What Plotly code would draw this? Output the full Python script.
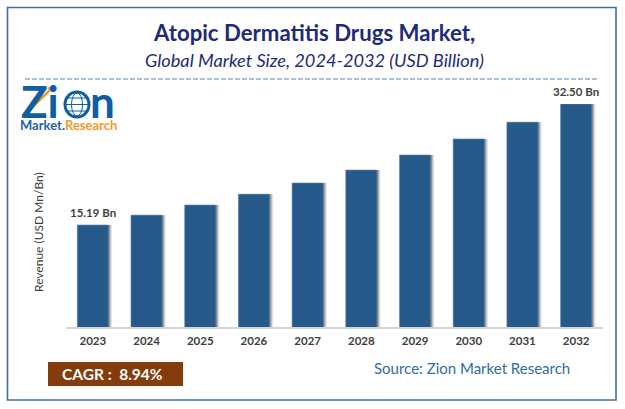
import plotly.graph_objects as go

years = ["2023","2024","2025","2026","2027","2028","2029","2030","2031","2032"]
values = [15.19,16.6,18.05,19.6,21.2,23.05,25.2,27.5,29.9,32.5]
label_years = ["2023","2032"]
label_values = [15.19,32.5]
label_texts = ["15.19 Bn","32.50 Bn"]

W,H = 625,409
def px(x): return x/W
def py(y): return 1-y/H

fig = go.Figure()
for off,op in [(0.36,0.10),(0.345,0.16),(0.33,0.25),(0.315,0.35),(0.30,0.45)]:
    fig.add_trace(go.Bar(x=years,y=values,width=0.58,offset=off-0.58,
                         marker=dict(color=f"rgba(90,90,90,{op})",line_width=0),
                         hoverinfo="skip",showlegend=False))
fig.add_trace(go.Bar(x=years,y=values,width=0.58,offset=-0.29,
                     marker=dict(color="#255a8a",line=dict(color="#5f87ab",width=0.6)),
                     showlegend=False))

blue = "#0f5ea3"
shapes = [
    dict(type="rect",xref="paper",yref="paper",x0=px(7.5),x1=px(616),y0=py(7.5),y1=py(400),
         line=dict(color="#3f719c",width=1.6),fillcolor="rgba(0,0,0,0)"),
    dict(type="line",xref="paper",yref="paper",x0=px(25),x1=px(597),y0=py(79),y1=py(79),
         line=dict(color="#5b80c0",width=1,dash="5px,2px")),
    dict(type="rect",xref="paper",yref="paper",x0=px(48),x1=px(183),y0=py(362),y1=py(386),
         fillcolor="#843c0c",line_width=0),
]
logo_shapes = [
    dict(type="line",x0=px(23),x1=px(51),y0=py(116),y1=py(89),line=dict(color="#f39a26",width=2.5)),
    dict(type="path",path=f"M {px(47)} {py(88)} L {px(55)} {py(85)} L {px(53)} {py(93)} Z",
         fillcolor="#f39a26",line_width=0),
    dict(type="circle",x0=px(65),x1=px(89),y0=py(92),y1=py(117),fillcolor="#ffffff",line=dict(color=blue,width=3)),
    dict(type="circle",x0=px(71.5),x1=px(82.5),y0=py(93),y1=py(116),line=dict(color=blue,width=1)),
    dict(type="line",x0=px(66),x1=px(88),y0=py(104.5),y1=py(104.5),line=dict(color=blue,width=1)),
    dict(type="line",x0=px(68),x1=px(86),y0=py(98),y1=py(98),line=dict(color=blue,width=1)),
    dict(type="line",x0=px(68),x1=px(86),y0=py(111),y1=py(111),line=dict(color=blue,width=1)),
]
for s in logo_shapes:
    s.update(xref="paper",yref="paper",layer="above")
shapes += logo_shapes

def note(x,y,text,size,color,weight="normal",style="normal",family="Lato",anchor="center",angle=0):
    return dict(xref="paper",yref="paper",x=px(x),y=py(y),text=text,showarrow=False,
                xanchor=anchor,yanchor="middle",textangle=angle,
                font=dict(family=family,size=size,color=color,weight=weight,style=style))

annotations = [
    note(314,32,"Atopic Dermatitis Drugs Market,",22.2,"#1f2a78","bold"),
    note(314,60,"Global Market Size, 2024-2032 (USD Billion)",18.2,"#1f2a78",style="italic"),
    note(39,232,"Revenue (USD Mn/Bn)",12,"#404040",angle=-90),
    note(112,374,"CAGR :  8.94%",15.5,"#ffffff","bold"),
    note(472,368,"Source: Zion Market Research",15,"#2e6da4"),
    note(19,101,"Zi",44,blue,"bold",anchor="left"),
    note(88,101,"n",44,blue,"bold",anchor="left"),
    note(18,125,"<span style='color:#1f62a5'>Market.</span><span style='color:#f39a26'>Research</span>",13,"#1f62a5","bold",anchor="left"),
]
for yr,val,txt in zip(label_years,label_values,label_texts):
    annotations.append(dict(x=years.index(yr),y=val,xref="x",yref="y",text=txt,showarrow=False,yshift=13,
                            yanchor="middle",font=dict(family="Lato",size=11.5,color="#404040",weight="bold")))

fig.update_layout(
    width=W,height=H,autosize=False,paper_bgcolor="white",plot_bgcolor="white",
    barmode="overlay",bargap=0.42,showlegend=False,
    margin=dict(l=0,r=0,t=0,b=0),shapes=shapes,annotations=annotations,
    xaxis=dict(domain=[px(66),px(603)],range=[-0.5,9.5],showgrid=False,showline=True,linecolor="#d4d4d4",linewidth=1.5,
               ticks="",ticklabelstandoff=2,tickfont=dict(family="Lato",size=11.5,color="#404040",weight="bold"),
               anchor="y",type="category"),
    yaxis=dict(domain=[py(327),py(104)],range=[0.6,32.5],showgrid=False,showticklabels=False,
               zeroline=False,ticks="",showline=False),
)
fig.write_html("out.html",config=dict(displayModeBar=False),
               post_script="document.body.style.margin='0';document.documentElement.style.overflow='hidden';")
